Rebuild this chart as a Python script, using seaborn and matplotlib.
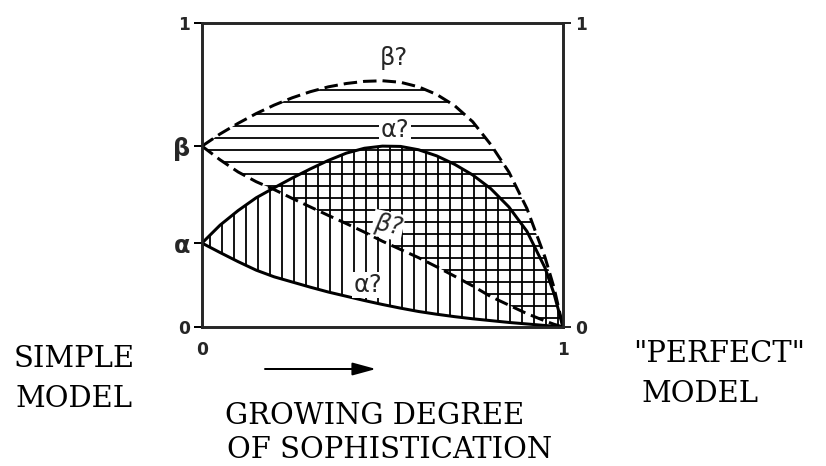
import matplotlib
matplotlib.use("Agg")
import matplotlib.pyplot as plt
import seaborn as sns

# ---- data ----
x_vals = [0.0, 0.05, 0.1, 0.15, 0.2, 0.25, 0.3, 0.35, 0.4, 0.45, 0.5,
          0.55, 0.6, 0.65, 0.7, 0.75, 0.8, 0.85, 0.9, 0.95, 0.975, 1.0]
beta_upper = [0.595, 0.635, 0.67, 0.702, 0.73, 0.754, 0.774, 0.79, 0.801, 0.808, 0.81,
              0.805, 0.79, 0.765, 0.728, 0.675, 0.60, 0.51, 0.39, 0.23, 0.13, 0.0]
beta_lower = [0.595, 0.55, 0.51, 0.478, 0.452, 0.423, 0.395, 0.367, 0.34, 0.312, 0.282,
              0.255, 0.228, 0.198, 0.167, 0.135, 0.10, 0.072, 0.044, 0.02, 0.009, 0.0]
alpha_upper = [0.276, 0.335, 0.383, 0.425, 0.458, 0.49, 0.52, 0.548, 0.572, 0.588, 0.595,
               0.594, 0.583, 0.563, 0.535, 0.50, 0.455, 0.395, 0.315, 0.195, 0.11, 0.0]
alpha_lower = [0.276, 0.245, 0.215, 0.187, 0.165, 0.148, 0.131, 0.115, 0.101, 0.087, 0.074,
               0.062, 0.051, 0.042, 0.034, 0.027, 0.021, 0.015, 0.01, 0.005, 0.0025, 0.0]

alpha_level = 0.276
beta_level = 0.595
left_ticks = [0, alpha_level, beta_level, 1]
left_labels = ["0", "α", "β", "1"]
right_ticks = [0, 1]
right_labels = ["0", "1"]
x_ticks = [0, 1]
x_labels = ["0", "1"]

W, H, DPI = 826, 466, 72

sns.set_style("white")
plt.rcParams["hatch.linewidth"] = 1.8
plt.rcParams["font.family"] = ["DejaVu Sans"]

fig = plt.figure(figsize=(W / DPI, H / DPI), dpi=DPI)
ax_l, ax_r, ax_t, ax_b = 202, 563, 23, 327
ax = fig.add_axes([ax_l / W, 1 - ax_b / H, (ax_r - ax_l) / W, (ax_b - ax_t) / H])

# hatched regions
ax.fill_between(x_vals, beta_lower, beta_upper, facecolor="none",
                edgecolor="black", linewidth=0, hatch="-")
ax.fill_between(x_vals, alpha_lower, alpha_upper, facecolor="none",
                edgecolor="black", linewidth=0, hatch="|")

# curves
for yv, ls in [(beta_upper, (0, (4.5, 2))), (beta_lower, (0, (4.5, 2))),
               (alpha_upper, "-"), (alpha_lower, "-")]:
    sns.lineplot(x=x_vals, y=yv, ax=ax, color="black", linewidth=3,
                 linestyle=ls, errorbar=None, sort=False)

ax.set_xlim(0, 1)
ax.set_ylim(0, 1)
ax.set_xlabel("")
ax.set_ylabel("")

for s in ax.spines.values():
    s.set_visible(True)
    s.set_linewidth(2.5)
    s.set_color("black")

ax.set_xticks(x_ticks)
ax.set_xticklabels(x_labels)
ax.set_yticks(left_ticks)
ax.set_yticklabels(left_labels)
ax.tick_params(axis="both", direction="out", length=8, width=2, color="black")
ax.tick_params(axis="y", pad=4)
ax.tick_params(axis="x", pad=6)
for lab in ax.get_yticklabels():
    if lab.get_text() in ("α", "β"):
        lab.set_fontsize(24)
        lab.set_fontweight("bold")
    else:
        lab.set_fontsize(17)
        lab.set_fontweight("bold")
for lab in ax.get_xticklabels():
    lab.set_fontsize(17)
    lab.set_fontweight("bold")

ax2 = ax.twinx()
ax2.set_ylim(0, 1)
ax2.set_yticks(right_ticks)
ax2.set_yticklabels(right_labels, fontsize=17, fontweight="bold")
ax2.tick_params(axis="y", direction="out", length=8, width=2, pad=4)
for s in ax2.spines.values():
    s.set_linewidth(2.5)

# labels inside the plot
box = dict(facecolor="white", edgecolor="none", pad=1.5)
ax.text(0.53, 0.885, "β?", fontsize=24, ha="center", va="center")
ax.text(0.535, 0.648, "α?", fontsize=24, ha="center", va="center", bbox=box)
ax.text(0.515, 0.335, "β?", fontsize=24, ha="center", va="center",
        style="italic", rotation=-12, bbox=box)
ax.text(0.46, 0.138, "α?", fontsize=24, ha="center", va="center", bbox=box)

# outer annotations
serif = "DejaVu Serif"
def ft(px, py, s, ha="center"):
    fig.text(px / W, 1 - py / H, s, ha=ha, va="baseline", fontsize=29,
             family=serif, color="black")

ft(74, 367, "SIMPLE")
ft(74, 407, "MODEL")
ft(719, 362, "\"PERFECT\"")
ft(700, 402, "MODEL")
ft(375, 424, "GROWING DEGREE")
ft(390, 458, "OF SOPHISTICATION")

fig.patches.append(matplotlib.patches.FancyArrowPatch(
    (263 / W, 1 - 369 / H), (378 / W, 1 - 369 / H),
    transform=fig.transFigure, arrowstyle="-|>,head_length=1.1,head_width=0.3",
    mutation_scale=18, linewidth=2.0, color="black"))

fig.savefig("out.png", dpi=DPI)
